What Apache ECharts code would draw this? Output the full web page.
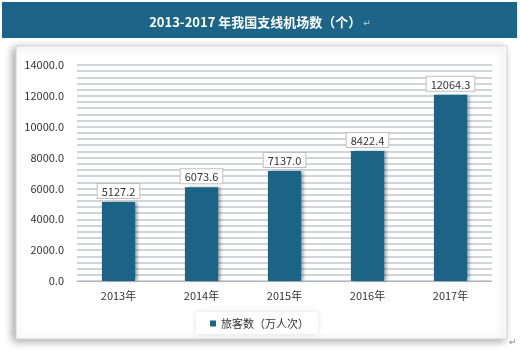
<!DOCTYPE html>
<html>
<head>
<meta charset="utf-8">
<script src="https://cdn.jsdelivr.net/npm/echarts@6/dist/echarts.min.js"></script>
<style>
  html, body { margin: 0; padding: 0; background: #fff; }
  #chart { width: 520px; height: 351px; }
</style>
</head>
<body>
<div id="chart"></div>
<script>
var titleText = '2013-2017 年我国支线机场数（个）';
var seriesName = '旅客数（万人次）';
var categories = ['2013年', '2014年', '2015年', '2016年', '2017年'];
var passengers = [5127.2, 6073.6, 7137.0, 8422.4, 12064.3];
var yMax = 14000;
var yStep = 2000;

var barColor = '#1b6486';
var font = '"Noto Sans CJK SC", "DejaVu Sans", sans-serif';

var myChart = echarts.init(document.getElementById('chart'));

var option = {
    animation: false,
    textStyle: { fontFamily: font },
    graphic: [
        // title band
        { type: 'rect', shape: { x: 2, y: 2, width: 515, height: 36 }, style: { fill: '#1d6588' }, z: 0 },
        // card with soft shadow
        {
            type: 'rect', shape: { x: 16, y: 46, width: 491, height: 293 },
            style: { fill: '#fff', stroke: '#d6d6d6', lineWidth: 1, shadowBlur: 8, shadowColor: 'rgba(0,0,0,0.35)', shadowOffsetX: -3, shadowOffsetY: 2 },
            z: 0
        },
        { type: 'text', left: 509, top: 338, style: { text: '↵', fill: '#888', fontSize: 9 }, z: 1 }
    ],
    title: {
        text: '{t|' + titleText + '}{r|↵}',
        left: 'center',
        top: 11,
        textStyle: {
            rich: {
                t: { color: '#fff', fontSize: 13, fontWeight: 'bold', fontFamily: font },
                r: { color: '#9bb4c4', fontSize: 9, padding: [0, 0, 0, 2] }
            }
        }
    },
    legend: {
        data: [seriesName],
        bottom: 17,
        left: 196,
        icon: 'rect',
        itemWidth: 6,
        itemHeight: 6,
        itemGap: 4,
        padding: [6, 9, 5, 14],
        backgroundColor: '#fff',
        shadowBlur: 6,
        shadowColor: 'rgba(0,0,0,0.12)',
        textStyle: { fontSize: 11, color: '#333', fontFamily: font }
    },
    grid: {
        left: 77,
        right: 28,
        top: 65,
        bottom: 70,
        show: true,
        backgroundColor: '#e9f0f7',
        borderWidth: 0
    },
    xAxis: {
        type: 'category',
        data: categories,
        axisTick: { show: false },
        axisLine: { lineStyle: { color: '#b3b7bd' } },
        axisLabel: { color: '#333', fontSize: 11, margin: 9, fontFamily: font }
    },
    yAxis: {
        type: 'value',
        min: 0,
        max: yMax,
        interval: yStep,
        axisLine: { show: false },
        axisTick: { show: false },
        axisLabel: {
            color: '#333', fontSize: 11, margin: 13, fontFamily: font,
            formatter: function (v) { return v.toFixed(1); }
        },
        splitLine: { lineStyle: { color: '#c2c7ce', width: 1.5 } },
        minorTick: { show: false, splitNumber: 5 },
        minorSplitLine: { show: true, lineStyle: { color: '#c2c7ce', width: 1.5 } }
    },
    series: [
        {
            name: seriesName,
            type: 'bar',
            barWidth: '40%',
            data: passengers,
            itemStyle: {
                color: barColor,
                shadowColor: 'rgba(0,0,0,0.35)',
                shadowBlur: 3,
                shadowOffsetX: 3,
                shadowOffsetY: 0
            },
            label: {
                show: true,
                position: 'top',
                distance: 4,
                formatter: function (p) { return p.value.toFixed(1); },
                color: '#333',
                fontSize: 11,
                fontFamily: font,
                backgroundColor: '#fff',
                borderColor: '#bfbfbf',
                borderWidth: 1,
                padding: [2, 4, 1, 4]
            }
        }
    ]
};

myChart.setOption(option, true);
</script>
</body>
</html>
